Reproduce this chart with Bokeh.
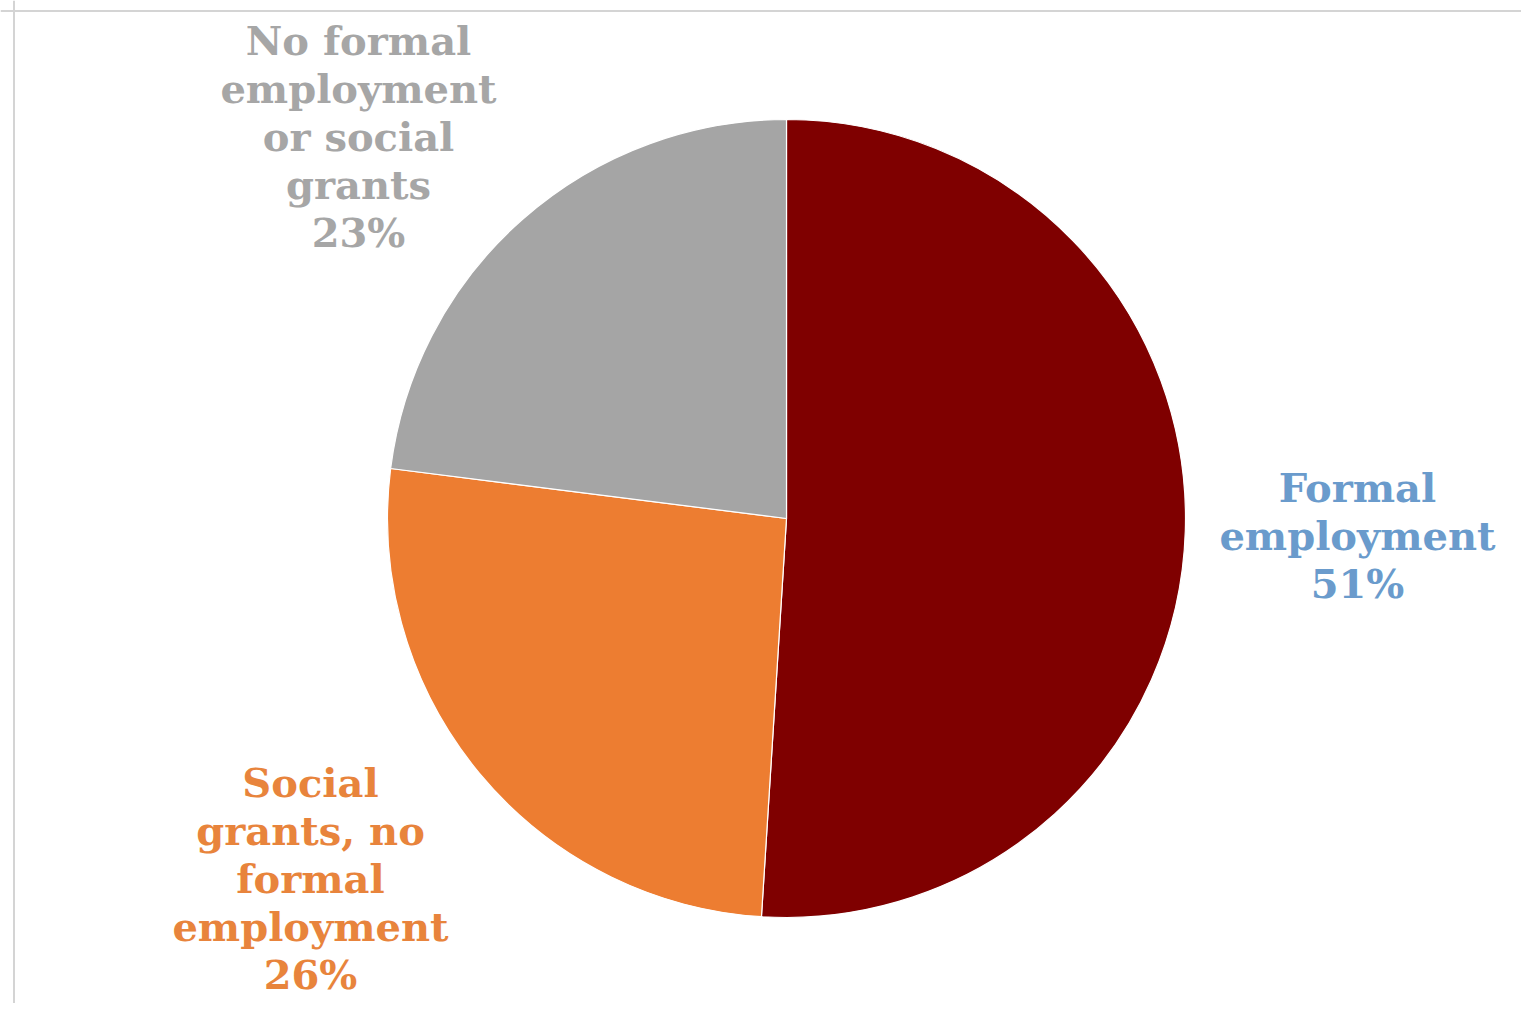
from math import pi
from bokeh.plotting import figure
from bokeh.models import ColumnDataSource, Range1d, Span
from bokeh.core.properties import value
from bokeh.embed import file_html
from bokeh.resources import INLINE

# ---- data ----
categories = ["Formal employment", "Social grants, no formal employment",
              "No formal employment or social grants"]
label_lines = ["Formal\nemployment", "Social\ngrants, no\nformal\nemployment",
               "No formal\nemployment\nor social\ngrants"]
shares = [51, 26, 23]

# ---- styles / layout (picture pixel coordinates, y measured from top) ----
slice_colors = ["#7f0000", "#ed7d31", "#a5a5a5"]
label_colors = ["#6a9bcc", "#e8843c", "#a6a6a6"]
W, H = 1521, 1003
cx, cy, r = 786, 518, 399
label_x = [1357, 310, 358]
label_y = [535, 878, 136]

total = float(sum(shares))
starts, ends = [], []
acc = 0.0
for s in shares:
    starts.append(pi / 2 - 2 * pi * acc / total)
    acc += s
    ends.append(pi / 2 - 2 * pi * acc / total)

src = ColumnDataSource(dict(
    cat=categories, share=shares, start=starts, end=ends, color=slice_colors,
))
lab = ColumnDataSource(dict(
    text=[f"{t}\n{v}%" for t, v in zip(label_lines, shares)],
    x=label_x, y=[H - v for v in label_y], color=label_colors,
))

p = figure(width=W, height=H, output_backend="svg", toolbar_location=None,
           x_range=Range1d(0, W), y_range=Range1d(0, H), min_border=0)
p.axis.visible = False
p.grid.visible = False
p.outline_line_color = None
p.background_fill_color = "white"

p.wedge(x=cx, y=H - cy, radius=r, start_angle="start", end_angle="end",
        direction="clock", fill_color="color", line_color="white",
        line_width=1.2, source=src)

p.text(x="x", y="y", text="text", source=lab, text_color="color",
       text_font=value("DejaVu Serif"), text_font_style="bold",
       text_font_size="40px", text_align="center", text_baseline="middle",
       text_line_height=1.02)

p.add_layout(Span(location=H - 10.5, dimension="width",
                  line_color="#d4d4d4", line_width=2))
p.add_layout(Span(location=13.5, dimension="height",
                  line_color="#d4d4d4", line_width=2))

open("out.html", "w").write(file_html(p, INLINE))
